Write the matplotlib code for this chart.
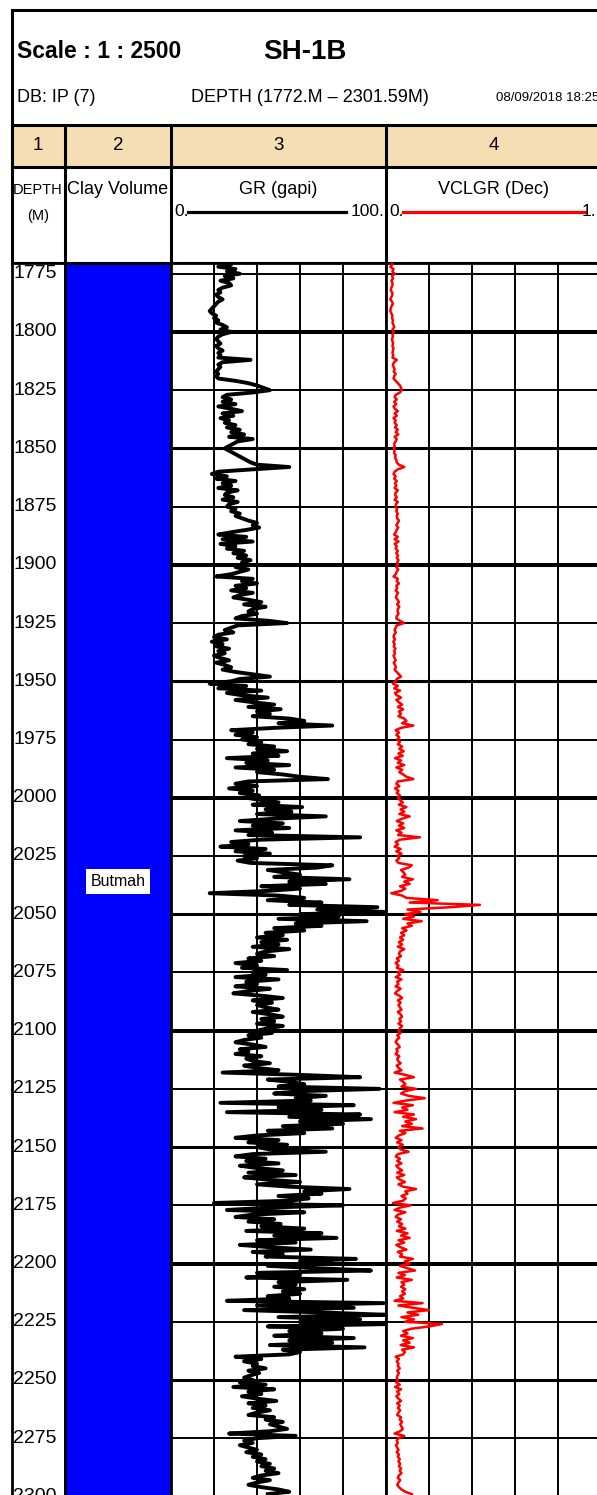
import numpy as np
import matplotlib
matplotlib.use('Agg')
import matplotlib.pyplot as plt

plt.rcParams['font.family'] = ['Liberation Sans', 'DejaVu Sans']

# --- header text ---
scale_text = 'Scale : 1 : 2500'
well_name = 'SH-1B'
db_text = 'DB: IP (7)'
range_text = 'DEPTH (1772.M \u2013 2301.59M)'
date_text = '08/09/2018 18:25'
track_numbers = ['1', '2', '3', '4']
track_titles = ['DEPTH\n(M)', 'Clay Volume', 'GR (gapi)', 'VCLGR (Dec)']
gr_scale = ('0.', '100.')
vcl_scale = ('0.', '1.')

depth_labels = [1775, 1800, 1825, 1850, 1875, 1900, 1925, 1950, 1975, 2000,
                2025, 2050, 2075, 2100, 2125, 2150, 2175, 2200, 2225, 2250,
                2275, 2300]
zone_name = 'Butmah'
zone_depth = 2036

# --- log curves, 1 m samples from 1770 m ---
depth = np.arange(1770, 2300)

gr = np.array([
    24, 28, 22, 30, 26, 32, 25, 29, 23, 27,   # 1770
    28, 24, 22, 23, 21, 22, 24, 22, 21, 20,
    19, 18, 19, 21, 20, 22, 21, 24, 26, 23,
    28, 24, 22, 21, 22, 23, 21, 22, 24, 22,   # 1800
    23, 22, 37, 24, 22, 23, 22, 21, 22, 21,
    22, 30, 36, 40, 43, 46, 38, 26, 24, 28,
    24, 30, 22, 28, 33, 24, 29, 23, 27, 25,
    30, 26, 32, 28, 34, 27, 38, 31, 29, 27,
    25, 27, 29, 31, 33, 35, 37, 40, 55, 38,
    22, 19, 26, 21, 30, 24, 28, 22, 31, 26,
    25, 29, 24, 31, 27, 26, 30, 28, 32, 30,
    33, 36, 40, 38, 41, 35, 28, 22, 35, 24,
    38, 23, 30, 26, 34, 29, 35, 31, 37, 33,
    34, 30, 36, 32, 28, 21, 38, 33, 40, 30,   # 1900
    35, 28, 38, 32, 29, 36, 42, 34, 44, 38,
    36, 40, 33, 30, 45, 54, 31, 28, 25, 29,
    22, 20, 26, 19, 24, 21, 27, 22, 25, 20,
    23, 27, 21, 25, 28, 24, 30, 38, 46, 32,
    28, 18, 35, 22, 42, 26, 33, 45, 30, 38,
    48, 36, 51, 40, 46, 38, 55, 62, 50, 75,
    48, 28, 38, 30, 40, 33, 42, 36, 48, 40,
    54, 38, 50, 26, 45, 35, 55, 30, 48, 40,
    52, 60, 73, 36, 30, 40, 27, 38, 32, 41,
    35, 42, 50, 38, 61, 44, 56, 40, 72, 48,   # 2000
    32, 52, 38, 55, 30, 47, 36, 88, 42, 28,
    36, 23, 44, 30, 46, 34, 40, 31, 37, 75,
    68, 45, 52, 60, 48, 83, 55, 72, 42, 60,
    45, 18, 50, 62, 45, 70, 55, 96, 68, 99,
    60, 78, 50, 91, 58, 70, 48, 62, 44, 52,
    40, 54, 42, 50, 38, 55, 44, 40, 48, 36,
    42, 30, 40, 33, 54, 38, 44, 30, 50, 35,
    40, 30, 46, 36, 29, 42, 52, 38, 47, 40,
    44, 50, 38, 46, 52, 42, 48, 40, 52, 45,
    40, 47, 36, 42, 34, 30, 38, 44, 32, 36,   # 2100
    30, 42, 35, 38, 46, 34, 40, 50, 24, 60,
    88, 45, 55, 62, 50, 97, 60, 48, 72, 58,
    65, 23, 85, 50, 70, 26, 88, 55, 93, 60,
    80, 52, 75, 45, 62, 40, 30, 50, 36, 54,
    40, 46, 72, 38, 30, 44, 35, 50, 32, 40,
    52, 36, 58, 34, 45, 60, 40, 55, 83, 62,
    70, 50, 64, 56, 20, 80, 45, 26, 62, 38,
    30, 48, 36, 51, 42, 62, 35, 70, 48, 77,
    40, 58, 32, 46, 65, 38, 52, 44, 86, 60,
    75, 45, 68, 93, 40, 60, 35, 82, 50, 58,   # 2200
    48, 62, 52, 60, 45, 55, 26, 99, 40, 85,
    34, 70, 100, 50, 88, 60, 100, 45, 80, 55,
    70, 48, 85, 55, 75, 46, 90, 52, 60, 55,
    30, 42, 34, 40, 38, 44, 36, 41, 37, 34,
    38, 32, 44, 29, 48, 36, 42, 33, 40, 49,
    36, 44, 38, 46, 40, 36, 48, 44, 52, 46,
    50, 54, 46, 27, 58, 40, 34, 38, 32, 36,
    40, 35, 42, 38, 44, 40, 46, 42, 48, 44,
    50, 42, 38, 46, 40, 36, 42, 50, 55, 45,
])

vclgr = np.array([
    .025, .03, .02, .035, .03, .04, .028, .033, .025, .03,   # 1770
    .03, .025, .022, .028, .03, .025, .02, .028, .032, .025,
    .022, .02, .025, .03, .028, .032, .03, .035, .038, .03,
    .036, .03, .032, .028, .03, .033, .03, .035, .032, .03,  # 1800
    .034, .03, .05, .038, .032, .035, .04, .036, .045, .038,
    .035, .045, .055, .065, .07, .073, .065, .045, .04, .05,
    .038, .048, .035, .042, .055, .04, .05, .035, .045, .04,
    .05, .042, .055, .045, .057, .04, .05, .045, .038, .04,
    .036, .04, .038, .045, .042, .048, .05, .06, .085, .055,
    .04, .035, .045, .038, .05, .042, .048, .04, .055, .045,
    .042, .05, .04, .055, .046, .044, .052, .048, .055, .05,
    .052, .06, .055, .048, .057, .05, .045, .038, .055, .04,
    .058, .04, .05, .045, .055, .048, .056, .05, .058, .052,
    .055, .048, .057, .05, .045, .035, .055, .05, .06, .048,  # 1900
    .052, .045, .056, .05, .046, .054, .06, .052, .062, .055,
    .054, .058, .05, .048, .065, .084, .05, .045, .04, .046,
    .038, .035, .042, .034, .04, .036, .044, .038, .042, .035,
    .04, .045, .036, .042, .046, .04, .05, .06, .07, .05,
    .045, .032, .055, .038, .065, .042, .05, .07, .048, .06,
    .075, .055, .08, .06, .07, .058, .085, .095, .075, .127,
    .07, .045, .06, .048, .062, .052, .065, .055, .075, .062,
    .082, .058, .078, .042, .07, .055, .085, .048, .075, .062,
    .08, .095, .127, .055, .048, .062, .042, .058, .05, .065,
    .055, .065, .078, .06, .095, .068, .085, .062, .11, .075,  # 2000
    .05, .08, .06, .085, .048, .072, .056, .158, .065, .045,
    .056, .04, .068, .048, .072, .054, .062, .048, .058, .12,
    .105, .07, .08, .09, .075, .125, .085, .11, .065, .09,
    .07, .025, .075, .095, .24, .11, .437, .30, .1, .16,
    .09, .13, .08, .166, .1, .12, .075, .095, .07, .085,
    .065, .08, .06, .075, .055, .085, .065, .06, .07, .05,
    .06, .045, .058, .05, .08, .055, .065, .045, .072, .052,
    .058, .045, .068, .052, .042, .062, .075, .055, .068, .058,
    .065, .072, .055, .068, .075, .062, .07, .058, .075, .065,
    .058, .068, .052, .062, .05, .045, .056, .064, .048, .054,  # 2100
    .045, .062, .052, .056, .068, .05, .058, .072, .04, .09,
    .13, .065, .08, .09, .072, .14, .088, .07, .105, .18,
    .095, .035, .125, .075, .1, .04, .13, .08, .14, .09,
    .12, .075, .17, .065, .09, .06, .045, .072, .052, .078,
    .058, .068, .105, .055, .045, .065, .052, .072, .048, .058,
    .075, .052, .085, .05, .065, .088, .058, .08, .14, .09,
    .1, .072, .092, .08, .032, .115, .065, .04, .09, .055,
    .045, .07, .052, .075, .06, .09, .05, .1, .07, .11,
    .058, .085, .048, .068, .095, .055, .075, .065, .125, .088,
    .11, .065, .1, .135, .058, .088, .05, .12, .072, .085,  # 2200
    .07, .09, .075, .088, .065, .08, .04, .17, .058, .125,
    .2, .1, .15, .072, .13, .088, .26, .2, .118, .08,
    .1, .07, .125, .08, .11, .068, .13, .075, .088, .08,
    .045, .06, .05, .058, .055, .064, .052, .06, .054, .05,
    .055, .047, .064, .042, .07, .052, .062, .048, .058, .07,
    .052, .064, .055, .066, .058, .052, .07, .064, .075, .066,
    .072, .078, .066, .04, .085, .058, .05, .055, .046, .052,
    .058, .05, .06, .055, .064, .058, .066, .06, .07, .064,
    .072, .06, .055, .066, .058, .052, .06, .072, .09, .12,
])

# --- layout in pixels ---
W, H = 597, 1495
edges = [11.5, 65, 171, 386, 601]
top_depth, bot_depth = 1770.4, 2310
px_per_m = 2.329
data_y0 = 263
data_y1 = data_y0 + (bot_depth - top_depth) * px_per_m
tan = '#f5deb3'
blue = '#0000ff'

fig = plt.figure(figsize=(W / 100, H / 100), dpi=100)


def px_ax(x0, x1, y0, y1):
    return fig.add_axes([x0 / W, 1 - y1 / H, (x1 - x0) / W, (y1 - y0) / H])


# background canvas for the header, drawn in pixel coordinates
bg = fig.add_axes([0, 0, 1, 1])
bg.set_xlim(0, W)
bg.set_ylim(H, 0)
bg.axis('off')

bg.fill_between([edges[0], 620], 125, 167, color=tan, lw=0)
for y in (10, 125, 167, 263):
    bg.plot([edges[0], 620], [y, y], color='black', lw=2.2)
bg.plot([edges[0], edges[0]], [10, 263], color='black', lw=2.2)
for x in edges[1:4]:
    bg.plot([x, x], [125, 263], color='black', lw=2.2)

bg.text(17, 52, scale_text, fontsize=16.5, fontweight='bold', ha='left', va='center')
bg.text(305, 52, well_name, fontsize=20, fontweight='bold', ha='center', va='center')
bg.text(17, 97, db_text, fontsize=13, ha='left', va='center')
bg.text(191, 97, range_text, fontsize=13, ha='left', va='center')
bg.text(496, 98, date_text, fontsize=9.5, ha='left', va='center')

for i, num in enumerate(track_numbers):
    cx = (edges[i] + edges[i + 1]) / 2
    bg.text(cx, 146, num, fontsize=13.5, ha='center', va='center')

bg.text(38, 190, 'DEPTH', fontsize=10.5, ha='center', va='center')
bg.text(38, 216, '(M)', fontsize=10.5, ha='center', va='center')
for i in (1, 2, 3):
    cx = (edges[i] + edges[i + 1]) / 2
    bg.text(cx, 190, track_titles[i], fontsize=13, ha='center', va='center')

# scale bars
bg.text(174, 212, gr_scale[0], fontsize=12.5, ha='left', va='center')
bg.plot([188, 346], [212, 212], color='black', lw=2.3)
bg.text(384, 212, gr_scale[1], fontsize=12.5, ha='right', va='center')
bg.text(389, 212, vcl_scale[0], fontsize=12.5, ha='left', va='center')
bg.plot([403, 585], [212, 212], color='red', lw=2.3)
bg.text(596, 212, vcl_scale[1], fontsize=12.5, ha='right', va='center')

# --- tracks ---
axes = [px_ax(edges[i], edges[i + 1], data_y0, data_y1) for i in range(4)]
for ax in axes:
    ax.set_ylim(bot_depth, top_depth)
    ax.set_xticks([])
    ax.set_yticks([])
    for sp in ax.spines.values():
        sp.set_linewidth(2.0)

ax1, ax2, ax3, ax4 = axes

# track 1: depth labels
for d in depth_labels:
    ax1.text(0.03, d, str(d), transform=ax1.get_yaxis_transform(),
             fontsize=14, ha='left', va='center', clip_on=False)

# track 2: clay volume fill
ax2.set_xlim(0, 1)
ax2.fill_betweenx([top_depth, bot_depth], 0, 1, color=blue, lw=0)
ax2.text(0.5, zone_depth, zone_name, fontsize=11.5, ha='center', va='center',
         bbox=dict(facecolor='white', edgecolor='none', pad=3.5))


def draw_grid(ax, xmax):
    for k in range(1, 5):
        ax.axvline(xmax * k / 5, color='black', lw=1.4, zorder=1)
    for d in depth_labels:
        lw = 2.9 if d % 100 == 0 else (2.2 if d % 50 == 0 else 1.4)
        ax.axhline(d, color='black', lw=lw, zorder=1)


# track 3: GR
ax3.set_xlim(0, 100)
draw_grid(ax3, 100)
ax3.plot(gr, depth, color='black', lw=2.8, zorder=3)

# track 4: VCLGR
ax4.set_xlim(0, 1)
draw_grid(ax4, 1)
ax4.plot(vclgr, depth, color='red', lw=1.8, zorder=3)

fig.savefig('out.png', dpi=100)
